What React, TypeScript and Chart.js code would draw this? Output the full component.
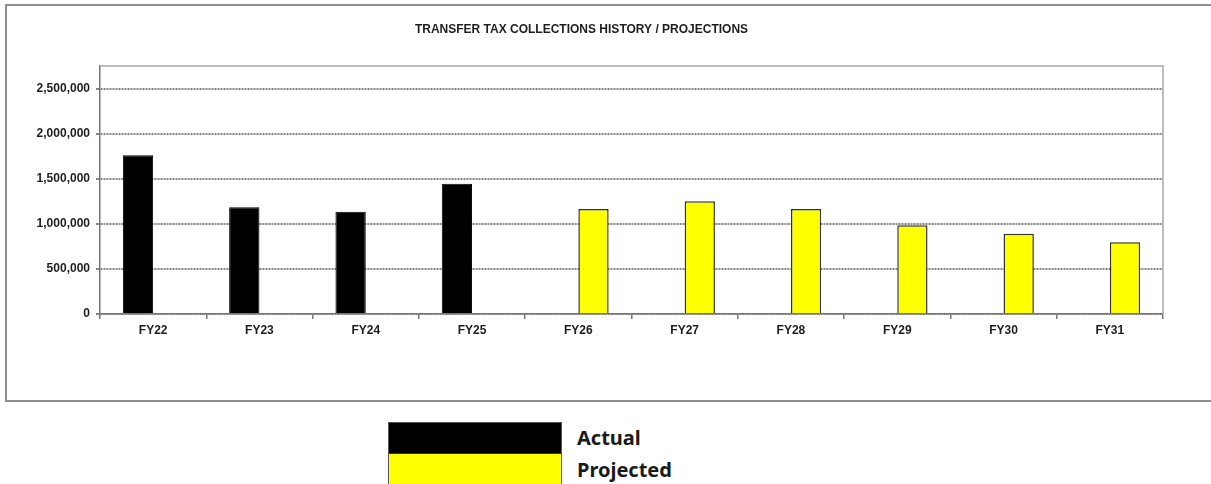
import React, { useEffect, useRef } from "react";
import { Chart, registerables } from "chart.js";

Chart.register(...registerables);

const categories = ["FY22", "FY23", "FY24", "FY25", "FY26", "FY27", "FY28", "FY29", "FY30", "FY31"];
const actualValues = [1760000, 1185000, 1135000, 1445000, null, null, null, null, null, null];
const projectedValues = [null, null, null, null, 1165000, 1250000, 1165000, 985000, 890000, 795000];
const yTickValues = [0, 500000, 1000000, 1500000, 2000000, 2500000];
const yMax = 2750000;
const titleText = "TRANSFER TAX COLLECTIONS HISTORY / PROJECTIONS";
const legendLabels = ["Actual", "Projected"];

const framePlugin = {
  id: "plotFrame",
  afterDraw(chart: any) {
    const { ctx, chartArea } = chart;
    ctx.save();
    ctx.strokeStyle = "#a8a8a8";
    ctx.lineWidth = 1.5;
    ctx.beginPath();
    ctx.moveTo(chartArea.left, chartArea.top);
    ctx.lineTo(chartArea.right, chartArea.top);
    ctx.lineTo(chartArea.right, chartArea.bottom);
    ctx.stroke();
    ctx.restore();
  },
};

export default function App() {
  const canvasRef = useRef<HTMLCanvasElement | null>(null);

  useEffect(() => {
    document.body.style.margin = "0";
    const canvas = canvasRef.current;
    if (!canvas) return;
    const tickFont = { family: "'Liberation Sans', Arial, sans-serif", size: 12, weight: "bold" as const };
    const chart = new Chart(canvas, {
      type: "bar",
      data: {
        labels: categories,
        datasets: [
          {
            label: legendLabels[0],
            data: actualValues,
            backgroundColor: "#000000",
            borderColor: "#000000",
            borderWidth: 1,
          },
          {
            label: legendLabels[1],
            data: projectedValues,
            backgroundColor: "#ffff00",
            borderColor: "#333333",
            borderWidth: 1.5,
          },
        ],
      },
      options: {
        responsive: false,
        animation: false,
        devicePixelRatio: 1,
        datasets: { bar: { categoryPercentage: 0.57, barPercentage: 1 } },
        layout: { padding: { left: 0, right: 48, top: 0, bottom: 0 } },
        plugins: {
          legend: { display: false },
          tooltip: { enabled: false },
          title: {
            display: true,
            text: titleText,
            color: "#1e1e1e",
            font: { family: "'Liberation Sans', Arial, sans-serif", size: 12, weight: "bold" },
            padding: { top: 22, bottom: 29.6 },
          },
        },
        scales: {
          x: {
            offset: true,
            grid: {
              display: true,
              offset: true,
              drawOnChartArea: false,
              drawTicks: true,
              tickLength: 5,
              color: "#777777",
              lineWidth: 1.5,
            },
            border: { display: true, color: "#777777", width: 1.5 },
            ticks: { color: "#1e1e1e", font: tickFont, padding: 4, maxRotation: 0 },
            afterFit: (scale: any) => {
              scale.height = 86;
            },
          },
          y: {
            min: 0,
            max: yMax,
            afterBuildTicks: (scale: any) => {
              scale.ticks = yTickValues.map((v) => ({ value: v }));
            },
            grid: {
              display: true,
              drawTicks: true,
              tickLength: 4,
              color: "#858585",
              lineWidth: 2,
            },
            border: { display: true, color: "#777777", width: 1.5, dash: [2, 1] },
            ticks: {
              color: "#1e1e1e",
              font: tickFont,
              padding: 6,
              callback: (v: any) => Number(v).toLocaleString("en-US"),
            },
            afterFit: (scale: any) => {
              scale.width = 100;
            },
          },
        },
      },
      plugins: [framePlugin],
    } as any);
    return () => chart.destroy();
  }, []);

  const legendFont = "'Noto Sans', 'Open Sans', sans-serif";

  return (
    <div style={{ position: "fixed", left: 0, top: 0, width: 1211, height: 484, overflow: "hidden", background: "#ffffff" }}>
      <div
        style={{
          position: "absolute",
          left: 5,
          top: 4,
          width: 1206,
          height: 398,
          boxSizing: "border-box",
          borderTop: "2px solid #8f8f8f",
          borderLeft: "2px solid #8f8f8f",
          borderBottom: "2px solid #8f8f8f",
        }}
      />
      <canvas ref={canvasRef} width={1211} height={400} style={{ position: "absolute", left: 0, top: 0, width: 1211, height: 400 }} />
      <div
        style={{
          position: "absolute",
          left: 388,
          top: 422,
          width: 174,
          height: 70,
          boxSizing: "border-box",
          border: "1px solid #555555",
        }}
      >
        <div style={{ height: 30, background: "#000000" }} />
        <div style={{ height: 40, background: "#ffff00", borderTop: "1px solid #333" }} />
      </div>
      <div
        style={{
          position: "absolute",
          left: 577,
          top: 428,
          fontFamily: legendFont,
          fontWeight: "bold",
          fontSize: 20,
          lineHeight: "20px",
          color: "#1a1a1a",
          whiteSpace: "nowrap",
        }}
      >
        {legendLabels[0]}
      </div>
      <div
        style={{
          position: "absolute",
          left: 577,
          top: 460,
          fontFamily: legendFont,
          fontWeight: "bold",
          fontSize: 20,
          lineHeight: "20px",
          color: "#1a1a1a",
          whiteSpace: "nowrap",
        }}
      >
        {legendLabels[1]}
      </div>
    </div>
  );
}
